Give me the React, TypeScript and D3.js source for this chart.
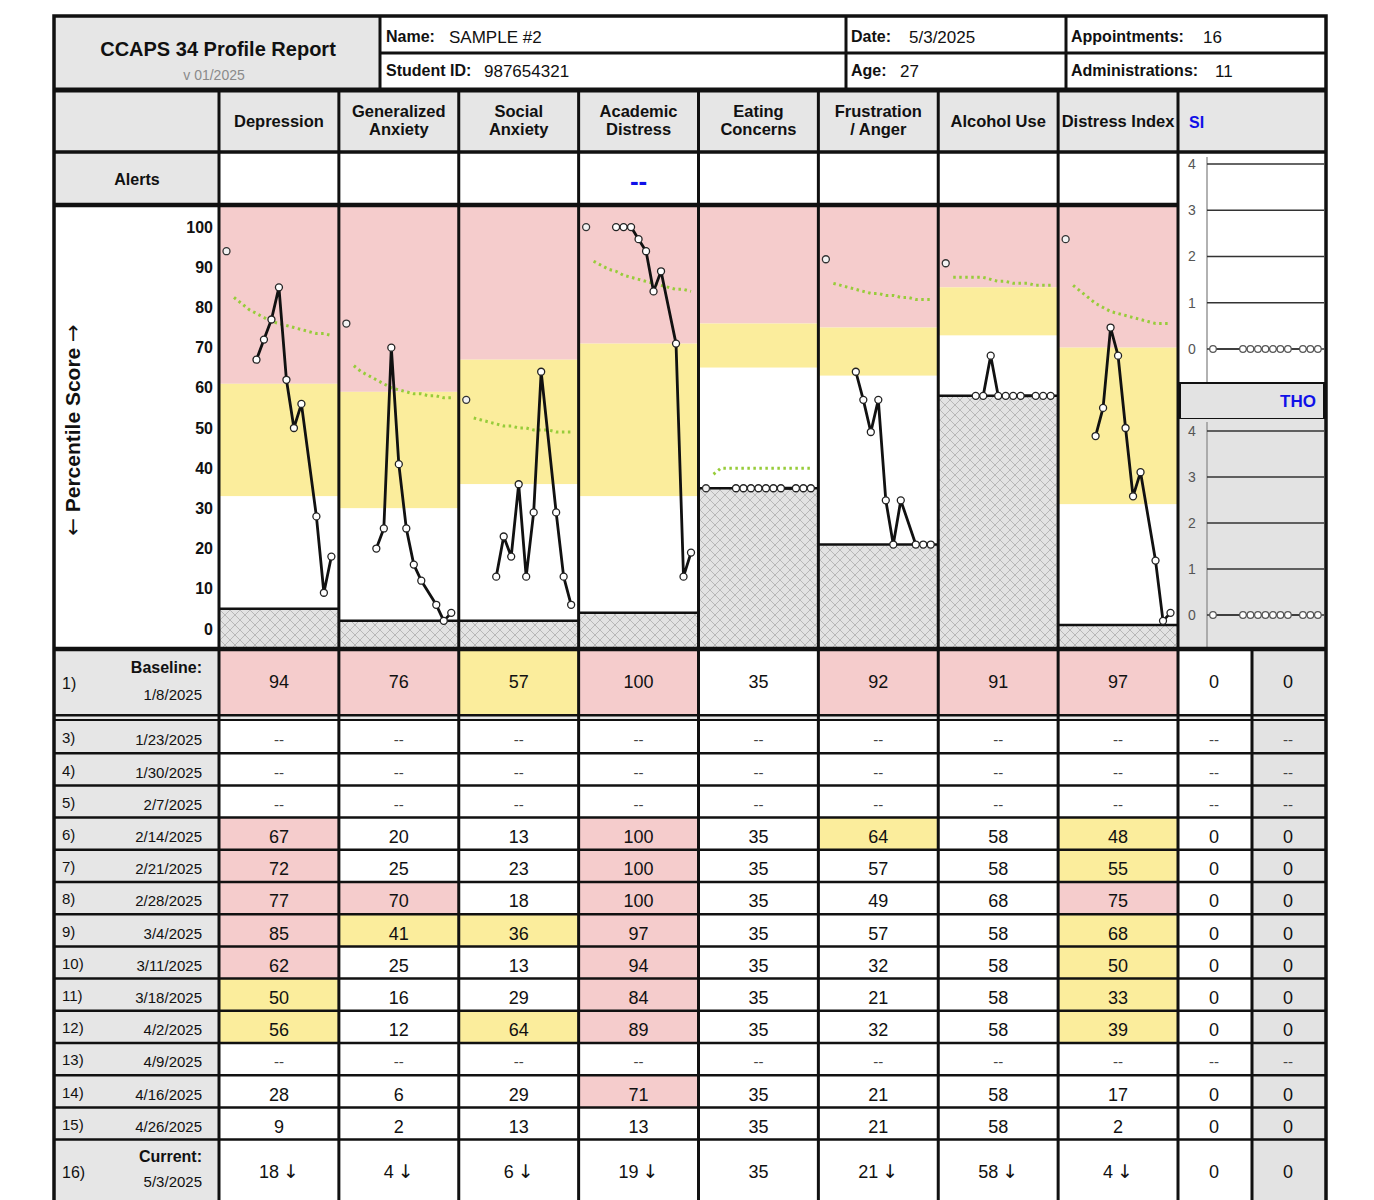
import React from "react";
import * as d3 from "d3";

const SANS = "'Liberation Sans', Arial, sans-serif";
const NARROW = "'Liberation Sans Narrow', 'Arial Narrow', 'Liberation Sans', Arial, sans-serif";
const ARROW = "'DejaVu Sans', sans-serif";

// scales of the report
const scaleNames = [
  "Depression",
  "Generalized Anxiety",
  "Social Anxiety",
  "Academic Distress",
  "Eating Concerns",
  "Frustration / Anger",
  "Alcohol Use",
  "Distress Index",
];
const headerLines = [
  ["Depression"],
  ["Generalized", "Anxiety"],
  ["Social", "Anxiety"],
  ["Academic", "Distress"],
  ["Eating", "Concerns"],
  ["Frustration", "/ Anger"],
  ["Alcohol Use"],
  ["Distress Index"],
];

// percentile where elevated (pink) / moderate (yellow) ranges start, and each scale's floor
const highCuts = [61, 59, 67, 71, 76, 75, 85, 70];
const lowCuts = [33, 30, 36, 33, 65, 63, 73, 31];
const floors = [5, 2, 2, 4, 35, 21, 58, 1];
const alerts = ["", "", "", "--", "", "", "", ""];

// baseline
const baselineDate = "1/8/2025";
const baselineScores = [94, 76, 57, 100, 35, 92, 91, 97];
const baselineSI = 0;
const baselineTHO = 0;

// follow-up administrations
const sessionNums = [3, 4, 5, 6, 7, 8, 9, 10, 11, 12, 13, 14, 15];
const sessionDates = [
  "1/23/2025", "1/30/2025", "2/7/2025", "2/14/2025", "2/21/2025", "2/28/2025", "3/4/2025",
  "3/11/2025", "3/18/2025", "4/2/2025", "4/9/2025", "4/16/2025", "4/26/2025",
];
const depression = [null, null, null, 67, 72, 77, 85, 62, 50, 56, null, 28, 9];
const genAnxiety = [null, null, null, 20, 25, 70, 41, 25, 16, 12, null, 6, 2];
const socAnxiety = [null, null, null, 13, 23, 18, 36, 13, 29, 64, null, 29, 13];
const academic = [null, null, null, 100, 100, 100, 97, 94, 84, 89, null, 71, 13];
const eating = [null, null, null, 35, 35, 35, 35, 35, 35, 35, null, 35, 35];
const frustration = [null, null, null, 64, 57, 49, 57, 32, 21, 32, null, 21, 21];
const alcohol = [null, null, null, 58, 58, 68, 58, 58, 58, 58, null, 58, 58];
const distress = [null, null, null, 48, 55, 75, 68, 50, 33, 39, null, 17, 2];
const siScores = [null, null, null, 0, 0, 0, 0, 0, 0, 0, null, 0, 0];
const thoScores = [null, null, null, 0, 0, 0, 0, 0, 0, 0, null, 0, 0];
const sessionScores = [depression, genAnxiety, socAnxiety, academic, eating, frustration, alcohol, distress];

// current administration
const currentNum = 16;
const currentDate = "5/3/2025";
const currentScores = [18, 4, 6, 19, 35, 21, 58, 4];
const currentDown = [true, true, true, true, false, true, true, true];
const currentSI = 0;
const currentTHO = 0;

// expected-change curve (green dots), slots 3..16
const expectedSlots = [3, 4, 5, 6, 7, 8, 9, 10, 11, 12, 13, 14, 15, 16];
const expected = [
  [82.5, 81, 79.5, 78.5, 77.5, 76.5, 76, 75.5, 75, 74.5, 74, 73.5, 73.5, 73],
  [65.5, 64, 63, 62, 61, 60, 59.5, 59, 58.5, 58.5, 58, 58, 57.5, 57.5],
  [52.5, 52, 51.5, 51, 50.5, 50.5, 50, 50, 49.5, 49.5, 49.5, 49, 49, 49],
  [91.5, 90.5, 89.5, 89, 88, 87.5, 87, 86.5, 86, 85.5, 85, 84.5, 84.5, 84],
  [38.5, 40, 40, 40, 40, 40, 40, 40, 40, 40, 40, 40, 40, 40],
  [86, 85.5, 85, 84.5, 84, 83.5, 83.5, 83, 83, 82.5, 82.5, 82, 82, 82],
  [87.5, 87.5, 87.5, 87.5, 87.5, 87, 86.5, 86.5, 86, 86, 86, 85.5, 85.5, 85.5],
  [85.5, 84, 82.5, 81, 80, 79, 78.5, 78, 77.5, 77, 76.5, 76, 76, 76],
];

const percentTicks = [0, 10, 20, 30, 40, 50, 60, 70, 80, 90, 100];
const siTicks = [0, 1, 2, 3, 4];
const baselineSlot = 2; // intake marker sits in the chart's 2nd category

const PINK = "#f5cccc";
const YELLOW = "#fbed9c";
const GRAY = "#e6e6e6";
const THO_GRAY = "#e3e3e3";

function fillFor(i: number, v: number | null) {
  if (v == null) return "#fff";
  if (v >= highCuts[i]) return PINK;
  if (v >= lowCuts[i]) return YELLOW;
  return "#fff";
}

export default function App() {
  const W = 1374;
  const H = 1215;
  const L = 54;
  const R = 1326;
  const labelR = 219;
  const top = 16;
  const infoMid = 53;
  const infoBot = 90;
  const headBot = 152;
  const alertBot = 205;
  const chartBot = 649;
  const baseBot = 714;
  const rowsTop = 721;
  const rowH = 32.2;
  const lastTop = rowsTop + sessionNums.length * rowH;
  const bottom = 1213;

  const colBand = d3.scaleBand<string>().domain(scaleNames).range([labelR, 1178]);
  const cw = colBand.bandwidth();
  const sideBand = d3.scaleBand<string>().domain(["SI", "THO"]).range([1178, R]);
  const rowBand = d3.scaleBand<string>().domain(sessionNums.map(String)).range([rowsTop, lastTop]);

  const y = d3.scaleLinear().domain([-5, 105]).range([chartBot, alertBot + 2]);
  const slot = d3.scaleLinear().domain([1, 17]).range([0, cw]);

  const siTop = 154;
  const siBot = 383;
  const thoTop = 419;
  const ySI = d3.scaleLinear().domain([0, 4]).range([349, 164]);
  const yTHO = d3.scaleLinear().domain([0, 4]).range([615, 431]);
  const siSlot = d3.scaleLinear().domain([1, 17]).range([1205.5, 1205.5 + cw]);
  const siAxisX = 1207;

  const line = d3.line<[number, number]>().x((d) => d[0]).y((d) => d[1]);

  const vSeps = [labelR, ...scaleNames.map((s) => (colBand(s) as number) + cw)];

  const sidePts = (arr: (number | null)[], base: number, cur: number, ys: d3.ScaleLinear<number, number>) => {
    const pts: [number, number][] = [[siSlot(baselineSlot), ys(base)]];
    sessionNums.forEach((n, k) => {
      const v = arr[k];
      if (v != null) pts.push([siSlot(n), ys(v)]);
    });
    pts.push([siSlot(currentNum), ys(cur)]);
    return pts;
  };
  const siPts = sidePts(siScores, baselineSI, currentSI, ySI);
  const thoPts = sidePts(thoScores, baselineTHO, currentTHO, yTHO);

  const sidePanel = (pts: [number, number][], ys: d3.ScaleLinear<number, number>, y0: number, y1: number, key: string) => (
    <g key={key}>
      <line x1={siAxisX} x2={siAxisX} y1={y0 + 3} y2={y1} stroke="#999" strokeWidth={1.5} />
      {siTicks.map((t) => (
        <g key={t}>
          <line x1={siAxisX} x2={R - 2} y1={ys(t)} y2={ys(t)} stroke="#333" strokeWidth={1.5} />
          <text x={1192} y={ys(t)} dy="0.35em" textAnchor="middle" fontFamily={SANS} fontSize={14} fill="#555">
            {t}
          </text>
        </g>
      ))}
      <path d={line(pts) as string} fill="none" stroke="#333" strokeWidth={1.5} />
      {pts.map((p, i) => (
        <circle key={i} cx={p[0]} cy={p[1]} r={3.3} fill="#fff" stroke="#555" strokeWidth={1.2} />
      ))}
    </g>
  );

  const valueText = (x: number, cy: number, v: number | null, down = false) =>
    v == null ? (
      <text x={x} y={cy} dy="0.35em" textAnchor="middle" fontFamily={NARROW} fontSize={15} fill="#444">
        --
      </text>
    ) : (
      <text x={x} y={cy} dy="0.35em" textAnchor="middle" fontFamily={NARROW} fontSize={18} fill="#111">
        {v}
        {down ? (
          <tspan fontFamily={ARROW} fontSize={19} dx={4}>
            ↓
          </tspan>
        ) : null}
      </text>
    );

  return (
    <svg width={W} height={H} style={{ position: "absolute", left: 0, top: 0, background: "#fff" }}>
      <defs>
        <pattern id="hatch" width={10} height={10} patternUnits="userSpaceOnUse">
          <rect width={10} height={10} fill="#e3e3e3" />
          <path d="M0,0 L10,10 M10,0 L0,10" stroke="#b8b8b8" strokeWidth={1} />
        </pattern>
      </defs>

      {/* report info */}
      <rect x={L} y={top} width={380 - L} height={infoBot - top} fill={GRAY} />
      <text x={218} y={49} dy="0.35em" textAnchor="middle" fontFamily={SANS} fontWeight="bold" fontSize={20} fill="#111">
        CCAPS 34 Profile Report
      </text>
      <text x={214} y={75} dy="0.35em" textAnchor="middle" fontFamily={SANS} fontSize={14} fill="#8a8a8a">
        v 01/2025
      </text>
      {[
        { x: 386, y: 36, k: "Name:", v: "SAMPLE #2", vx: 449 },
        { x: 386, y: 70, k: "Student ID:", v: "987654321", vx: 484 },
        { x: 851, y: 36, k: "Date:", v: "5/3/2025", vx: 909 },
        { x: 851, y: 70, k: "Age:", v: "27", vx: 900 },
        { x: 1071, y: 36, k: "Appointments:", v: "16", vx: 1203 },
        { x: 1071, y: 70, k: "Administrations:", v: "11", vx: 1215 },
      ].map((f) => (
        <g key={f.k}>
          <text x={f.x} y={f.y} dy="0.35em" fontFamily={SANS} fontWeight="bold" fontSize={16} fill="#111">
            {f.k}
          </text>
          <text x={f.vx} y={f.y + 1} dy="0.35em" fontFamily={SANS} fontSize={17} fill="#111">
            {f.v}
          </text>
        </g>
      ))}

      {/* column headers */}
      <rect x={L} y={infoBot} width={R - L} height={headBot - infoBot} fill={GRAY} />
      {scaleNames.map((s, i) => {
        const cx = (colBand(s) as number) + cw / 2;
        const lines = headerLines[i];
        return (
          <text key={s} x={cx} y={121} textAnchor="middle" fontFamily={SANS} fontWeight="bold" fontSize={16.5} fill="#111">
            {lines.map((ln, j) => (
              <tspan key={j} x={cx} dy={j === 0 ? (lines.length === 1 ? "0.35em" : "-0.25em") : "1.1em"}>
                {ln}
              </tspan>
            ))}
          </text>
        );
      })}
      <text x={1189} y={122} dy="0.35em" fontFamily={SANS} fontWeight="bold" fontSize={16} fill="#1010e8">
        SI
      </text>

      {/* alerts */}
      <rect x={L} y={headBot} width={labelR - L} height={alertBot - headBot} fill={GRAY} />
      <text x={137} y={179} dy="0.35em" textAnchor="middle" fontFamily={SANS} fontWeight="bold" fontSize={16} fill="#111">
        Alerts
      </text>
      {scaleNames.map((s, i) => (
        <text key={s} x={(colBand(s) as number) + cw / 2} y={181} dy="0.35em" textAnchor="middle" fontFamily={SANS} fontWeight="bold" fontSize={26} fill="#1010e8">
          {alerts[i]}
        </text>
      ))}

      {/* percentile axis */}
      {percentTicks.map((t) => (
        <text key={t} x={213} y={y(t)} dy="0.35em" textAnchor="end" fontFamily={SANS} fontWeight="bold" fontSize={16} fill="#111">
          {t}
        </text>
      ))}
      <text
        transform={`translate(73,${(alertBot + chartBot) / 2 + 3}) rotate(-90)`}
        textAnchor="middle"
        dy="0.35em"
        fontFamily={SANS}
        fontWeight="bold"
        fontSize={21}
        fill="#111"
      >
        <tspan fontFamily={ARROW} fontWeight="normal">←</tspan> Percentile Score <tspan fontFamily={ARROW} fontWeight="normal">→</tspan>
      </text>

      {/* profile charts */}
      {scaleNames.map((s, i) => {
        const x0 = colBand(s) as number;
        const pts: [number, number][] = [];
        sessionNums.forEach((n, k) => {
          const v = sessionScores[i][k];
          if (v != null) pts.push([x0 + slot(n), y(v)]);
        });
        pts.push([x0 + slot(currentNum), y(currentScores[i])]);
        const exp: [number, number][] = expectedSlots.map((n, k) => [x0 + slot(n), y(expected[i][k])]);
        return (
          <g key={s}>
            <rect x={x0} y={y(105)} width={cw} height={y(highCuts[i]) - y(105)} fill={PINK} />
            <rect x={x0} y={y(highCuts[i])} width={cw} height={y(lowCuts[i]) - y(highCuts[i])} fill={YELLOW} />
            <rect x={x0} y={y(lowCuts[i])} width={cw} height={y(floors[i]) - y(lowCuts[i])} fill="#fff" />
            <rect x={x0} y={y(floors[i])} width={cw} height={y(-5) - y(floors[i])} fill="url(#hatch)" />
            <line x1={x0} x2={x0 + cw} y1={y(floors[i])} y2={y(floors[i])} stroke="#111" strokeWidth={2.5} />
            <path d={line(exp) as string} fill="none" stroke="#97cc3a" strokeWidth={3} strokeDasharray="2.5,3.5" />
            <path d={line(pts) as string} fill="none" stroke="#111" strokeWidth={2.8} strokeLinejoin="round" />
            {pts.map((p, k) => (
              <circle key={k} cx={p[0]} cy={p[1]} r={3.5} fill="#fff" stroke="#222" strokeWidth={1.3} />
            ))}
            <circle cx={x0 + slot(baselineSlot)} cy={y(baselineScores[i])} r={3.5} fill="#f2f2f2" stroke="#333" strokeWidth={1.3} />
          </g>
        );
      })}

      {/* SI / THO panels */}
      <rect x={1178} y={siTop} width={R - 1178} height={siBot - siTop} fill="#fff" />
      {sidePanel(siPts, ySI, siTop, siBot, "si")}
      <rect x={1180} y={siBot} width={R - 1182} height={thoTop - siBot} fill={THO_GRAY} stroke="#111" strokeWidth={2} />
      <text x={1316} y={401} dy="0.35em" textAnchor="end" fontFamily={SANS} fontWeight="bold" fontSize={17} fill="#1010e8">
        THO
      </text>
      <rect x={1178} y={thoTop} width={R - 1178} height={chartBot - thoTop} fill={THO_GRAY} />
      {sidePanel(thoPts, yTHO, thoTop, chartBot, "tho")}

      {/* table: baseline */}
      <rect x={L} y={chartBot} width={labelR - L} height={baseBot - chartBot} fill={GRAY} />
      <text x={62} y={683} dy="0.35em" fontFamily={NARROW} fontSize={16} fill="#111">1)</text>
      <text x={202} y={667} dy="0.35em" textAnchor="end" fontFamily={NARROW} fontWeight="bold" fontSize={16} fill="#111">Baseline:</text>
      <text x={202} y={695} dy="0.35em" textAnchor="end" fontFamily={NARROW} fontSize={15} fill="#111">{baselineDate}</text>
      {scaleNames.map((s, i) => (
        <g key={s}>
          <rect x={colBand(s)} y={chartBot} width={cw} height={baseBot - chartBot} fill={fillFor(i, baselineScores[i])} />
          {valueText((colBand(s) as number) + cw / 2, 682, baselineScores[i])}
        </g>
      ))}
      <rect x={sideBand("THO")} y={chartBot} width={sideBand.bandwidth()} height={bottom - chartBot} fill={THO_GRAY} />
      {valueText((sideBand("SI") as number) + 36, 682, baselineSI)}
      {valueText((sideBand("THO") as number) + 36, 682, baselineTHO)}

      <rect x={L} y={baseBot} width={R - L} height={rowsTop - baseBot} fill="#111" />
      <rect x={L} y={baseBot + 2.5} width={R - L} height={2.5} fill="#e8e8e8" />

      {/* table: follow-up rows */}
      {sessionNums.map((n, k) => {
        const ry = rowBand(String(n)) as number;
        const cy = ry + rowH / 2 + 3;
        return (
          <g key={n}>
            <rect x={L} y={ry} width={labelR - L} height={rowH} fill={GRAY} />
            <text x={62} y={cy - 2} dy="0.35em" fontFamily={NARROW} fontSize={15} fill="#111">{n})</text>
            <text x={202} y={cy} dy="0.35em" textAnchor="end" fontFamily={NARROW} fontSize={15} fill="#111">{sessionDates[k]}</text>
            {scaleNames.map((s, i) => {
              const v = sessionScores[i][k];
              return (
                <g key={s}>
                  <rect x={colBand(s)} y={ry} width={cw} height={rowH} fill={fillFor(i, v)} />
                  {valueText((colBand(s) as number) + cw / 2, cy, v)}
                </g>
              );
            })}
            {valueText((sideBand("SI") as number) + 36, cy, siScores[k])}
            {valueText((sideBand("THO") as number) + 36, cy, thoScores[k])}
          </g>
        );
      })}

      {/* table: current */}
      <rect x={L} y={lastTop} width={labelR - L} height={bottom - lastTop} fill={GRAY} />
      <text x={62} y={1172} dy="0.35em" fontFamily={NARROW} fontSize={16} fill="#111">{currentNum})</text>
      <text x={202} y={1156} dy="0.35em" textAnchor="end" fontFamily={NARROW} fontWeight="bold" fontSize={16} fill="#111">Current:</text>
      <text x={202} y={1182} dy="0.35em" textAnchor="end" fontFamily={NARROW} fontSize={15} fill="#111">{currentDate}</text>
      {scaleNames.map((s, i) => (
        <g key={s}>{valueText((colBand(s) as number) + cw / 2, 1172, currentScores[i], currentDown[i])}</g>
      ))}
      {valueText((sideBand("SI") as number) + 36, 1172, currentSI)}
      {valueText((sideBand("THO") as number) + 36, 1172, currentTHO)}

      {/* grid lines */}
      <g stroke="#111" fill="none">
        <line x1={380} x2={R} y1={infoMid} y2={infoMid} strokeWidth={3} />
        {[380, 846, 1066].map((x) => (
          <line key={x} x1={x} x2={x} y1={top} y2={infoBot} strokeWidth={3} />
        ))}
        <line x1={L} x2={R} y1={infoBot} y2={infoBot} strokeWidth={5} />
        <line x1={L} x2={R} y1={headBot} y2={headBot} strokeWidth={3.5} />
        <line x1={L} x2={1178} y1={alertBot} y2={alertBot} strokeWidth={4.5} />
        <line x1={L} x2={R} y1={chartBot} y2={chartBot} strokeWidth={4.5} />
        {vSeps.map((x) => (
          <line key={x} x1={x} x2={x} y1={infoBot} y2={bottom} strokeWidth={3} />
        ))}
        <line x1={sideBand("THO")} x2={sideBand("THO")} y1={chartBot} y2={bottom} strokeWidth={3} />
        {sessionNums.map((n) => {
          const ry = (rowBand(String(n)) as number) + rowH;
          return <line key={n} x1={L} x2={R} y1={ry} y2={ry} strokeWidth={2.5} />;
        })}
        <rect x={L} y={top} width={R - L} height={bottom - top} strokeWidth={3.5} />
      </g>
    </svg>
  );
}
